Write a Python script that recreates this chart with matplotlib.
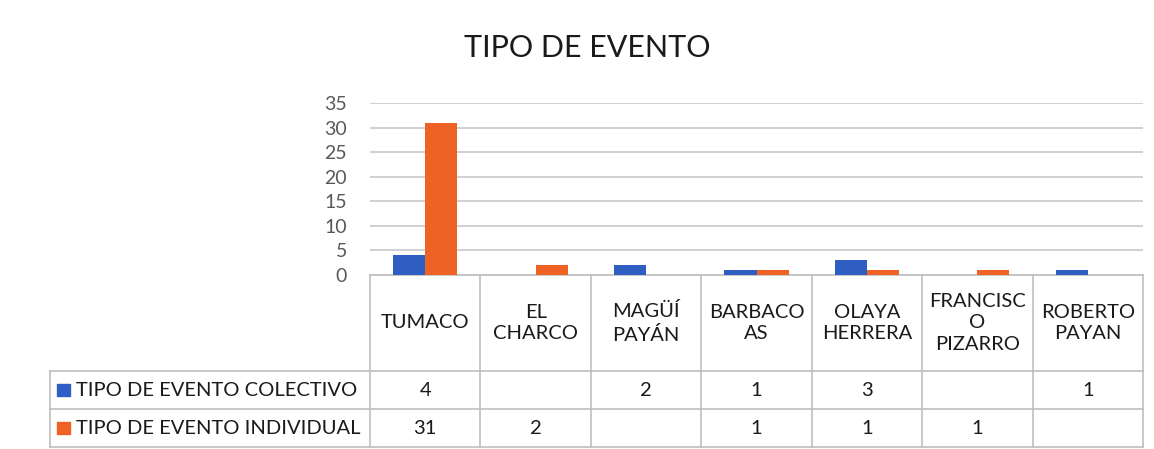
import matplotlib.pyplot as plt
import matplotlib.transforms as mtransforms
from matplotlib.patches import Rectangle
import numpy as np

plt.rcParams['font.family'] = ['Lato', 'DejaVu Sans']

categories = ['TUMACO', 'EL\nCHARCO', 'MAGÜÍ\nPAYÁN', 'BARBACO\nAS', 'OLAYA\nHERRERA',
              'FRANCISC\nO\nPIZARRO', 'ROBERTO\nPAYAN']
series_names = ['TIPO DE EVENTO COLECTIVO', 'TIPO DE EVENTO INDIVIDUAL']
colectivo = [4, None, 2, 1, 3, None, 1]
individual = [31, 2, None, 1, 1, 1, None]
colors = ['#2F5EC2', '#EE6226']

W, H = 1154, 449


def fy(py):
    return 1 - py / H


fig = plt.figure(figsize=(W / 100, H / 100), dpi=100)
ax = fig.add_axes([370 / W, fy(275), (1143 - 370) / W, (275 - 103) / H])

x = np.arange(len(categories))
bw = 0.29
for vals, col, off in [(colectivo, colors[0], -bw / 2), (individual, colors[1], bw / 2)]:
    v = [0 if a is None else a for a in vals]
    ax.bar(x + off, v, bw, color=col, zorder=3)

ax.set_xlim(-0.5, len(categories) - 0.5)
ax.set_ylim(0, 35)
ax.set_yticks(range(0, 36, 5))
ax.tick_params(axis='y', length=0, pad=16.5, labelsize=14, labelcolor='#595959')
ax.set_xticks([])
ax.grid(axis='y', color='#C8C8C8', linewidth=1.2, zorder=0)
for s in ['left', 'right', 'top']:
    ax.spines[s].set_visible(False)
ax.spines['bottom'].set_color('#BFBFBF')
ax.spines['bottom'].set_linewidth(1.2)

fig.text(587 / W, fy(48), 'TIPO DE EVENTO', ha='center', va='center', fontsize=22, color='#1A1A1A')

# data table below the axis
tr = mtransforms.blended_transform_factory(ax.transData, fig.transFigure)
xl = -0.5 - (370 - 50) / ((1143 - 370) / len(categories))
xr = len(categories) - 0.5
y_head_top, y_r1, y_r2, y_bot = fy(275), fy(371), fy(409), fy(447)
lc = '#BFBFBF'
lw = 1.2
for b in np.arange(-0.5, len(categories), 1.0):
    ax.plot([b, b], [y_head_top, y_bot], transform=tr, color=lc, lw=lw, clip_on=False)
ax.plot([xl, xl], [y_r1, y_bot], transform=tr, color=lc, lw=lw, clip_on=False)
for yy in [y_r1, y_r2, y_bot]:
    ax.plot([xl, xr], [yy, yy], transform=tr, color=lc, lw=lw, clip_on=False)

for i, c in enumerate(categories):
    ax.text(i, (y_head_top + y_r1) / 2, c, transform=tr, ha='center', va='center',
            fontsize=14.5, color='#1A1A1A', linespacing=1.35)

for r, (name, vals, col) in enumerate(zip(series_names, [colectivo, individual], colors)):
    yc = [(y_r1 + y_r2) / 2, (y_r2 + y_bot) / 2][r]
    fig.patches.append(Rectangle((57 / W, yc - 6 / H), 13 / W, 12 / H, transform=fig.transFigure,
                                 color=col, figure=fig))
    fig.text(76 / W, yc, name, ha='left', va='center', fontsize=14.5, color='#1A1A1A')
    for i, v in enumerate(vals):
        if v is not None:
            ax.text(i, yc, str(v), transform=tr, ha='center', va='center', fontsize=14.5, color='#1A1A1A')

fig.savefig('out.png', dpi=100)
